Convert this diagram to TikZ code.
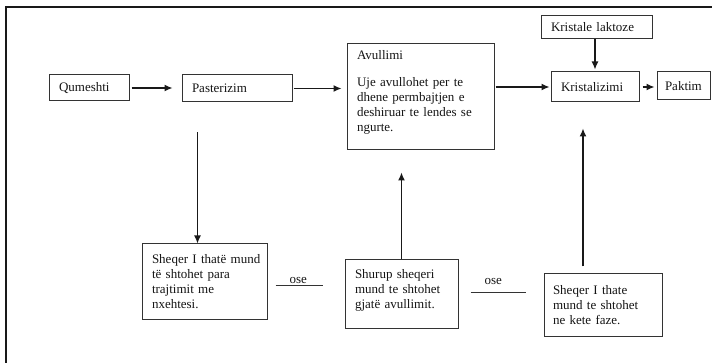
\documentclass[tikz,border=0pt]{standalone}
\usepackage{fontspec}
\setmainfont{Liberation Serif}
\usepackage{tikz}
\usetikzlibrary{positioning,arrows.meta,calc}
\tikzset{
  % --- process boxes ----------------------------------------------------
  box/.style    ={draw=black!80, line width=1pt, align=left, inner xsep=10pt,
                  inner ysep=0pt, text=black!92,
                  font=\fontsize{13}{15}\selectfont},
  % --- connectors -------------------------------------------------------
  arrow/.style  ={-{Latex[length=8pt,width=7pt]}, line width=1.3pt, draw=black!90},
  oseline/.style={line width=0.9pt, draw=black!80},
  ose/.style    ={inner sep=0pt, text=black!92, font=\fontsize{13}{15}\selectfont},
  frame/.style  ={line width=1.6pt, draw=black!90},
}
% invisible depth, lifts the text of a box a little
\newcommand{\pad}[1]{\rule[-#1]{0pt}{#1}}

\begin{document}
\begin{tikzpicture}[x=1pt, y=-1pt]
  \useasboundingbox (0,0) rectangle (712,363);
  \draw[frame] (6,363) -- (6,7) -- (712,7);

  % ============================= main line =============================
  \node[box, minimum width=80pt, minimum height=26pt, text width=60pt] (qum)  at (89,88)    {Qumeshti};
  \node[box, minimum width=110pt, minimum height=27pt, text width=90pt] (past) at (237,88.5) {Pasterizim};
  \node[box, minimum width=147pt, minimum height=106pt, text width=127pt] (avul) at (420.5,97)
    {Avullimi\\[12pt]Uje avullohet per te\\dhene permbajtjen e\\deshiruar te lendes se\\ngurte.\pad{13pt}};
  \node[box, minimum width=111pt, minimum height=23pt, text width=91pt] (kl)   at (596.5,27.5) {Kristale laktoze};
  \node[box, minimum width=88pt, minimum height=30pt, text width=68pt] (kris) at (595,87)   {Kristalizimi};
  \node[box, minimum width=53pt, minimum height=28pt, text width=37pt, inner xsep=8pt] (pak) at (683.5,86) {Paktim};

  % ============================= sugar options =============================
  \node[box, minimum width=125pt, minimum height=75pt, text width=105pt] (sh1) at (204.5,281.5)
    {\mbox{Sheqer I thatë mund}\\të shtohet para\\trajtimit me\\nxehtesi.};
  \node[box, minimum width=113pt, minimum height=68pt, text width=93pt] (shu) at (401.5,294)
    {Shurup sheqeri\\mund te shtohet\\gjatë avullimit.\pad{11pt}};
  \node[box, minimum width=118pt, minimum height=62pt, text width=100pt, inner xsep=9pt] (sh2) at (603,305)
    {Sheqer I thate\\mund te shtohet\\ne kete faze.};

  % ============================= edges =============================
  \draw[arrow, shorten <=2pt, shorten >=9pt] (qum.east) -- (qum.east -| past.west);
  \draw[arrow, shorten <=1pt, shorten >=5pt] (past.east) -- (past.east -| avul.west);
  \draw[arrow, shorten <=1pt, shorten >=1pt] (avul.east |- kris.west) -- (kris.west);
  \draw[arrow, shorten >=2pt] (kl.south -| kris.north) -- (kris.north);
  \draw[arrow, shorten <=3pt, shorten >=2pt] (kris.east) -- (kris.east -| pak.west);
  % sugar can be added at three points
  \draw[arrow] ([xshift=16pt,yshift=-30pt]past.south west) -- ([xshift=16pt]past.south west |- sh1.north);
  \draw[arrow, shorten >=22pt] (shu.north) -- (shu.north |- avul.south);
  \draw[arrow, shorten <=7pt, shorten >=26pt] ([xshift=-20pt]sh2.north) -- ([xshift=-20pt]sh2.north |- kris.south);
  % "ose" links
  \draw[oseline, shorten <=8pt, shorten >=22pt] ([yshift=-3.5pt]sh1.east) -- ([yshift=-3.5pt]sh1.east -| shu.west)
    node[ose, pos=0.4, above=0.5pt] {ose};
  \draw[oseline, shorten <=12pt, shorten >=18pt] ([yshift=2pt]shu.east) -- ([yshift=2pt]shu.east -| sh2.west)
    node[ose, pos=0.41, above=7pt] {ose};

\end{tikzpicture}
\end{document}
